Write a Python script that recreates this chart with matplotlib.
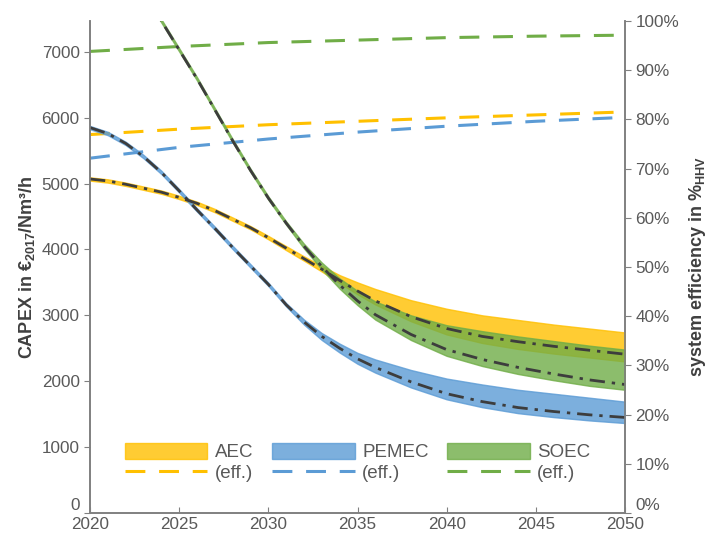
import matplotlib
matplotlib.use("Agg")
import matplotlib.pyplot as plt
from matplotlib.patches import Patch
from matplotlib.lines import Line2D
from matplotlib.ticker import FuncFormatter

plt.rcParams['font.family'] = ['Liberation Sans', 'DejaVu Sans']
plt.rcParams['mathtext.fontset'] = 'custom'
plt.rcParams['mathtext.rm'] = 'Liberation Sans'
plt.rcParams['mathtext.bf'] = 'Liberation Sans:bold'
plt.rcParams['mathtext.it'] = 'Liberation Sans:italic'

# years for AEC / PEMEC capex curves
years = [2020, 2021, 2022, 2023, 2024, 2025, 2026, 2027, 2028, 2029, 2030,
         2031, 2032, 2033, 2034, 2035, 2036, 2038, 2040, 2042, 2044, 2046, 2048, 2050]
# SOEC enters the chart from above around 2024
soec_years = years[3:]

# CAPEX in EUR2017/(Nm3/h)
aec_mid = [5070, 5040, 4990, 4930, 4870, 4790, 4700, 4590, 4460, 4330, 4180,
           4020, 3860, 3700, 3530, 3370, 3220, 2980, 2800, 2680, 2600, 2530, 2470, 2410]
aec_hi = [5095, 5065, 5015, 4955, 4895, 4815, 4725, 4615, 4485, 4355, 4205,
          4050, 3895, 3750, 3610, 3500, 3400, 3230, 3100, 3000, 2930, 2860, 2800, 2740]
aec_lo = [5045, 5015, 4965, 4905, 4845, 4765, 4675, 4565, 4435, 4305, 4155,
          3990, 3830, 3665, 3490, 3320, 3165, 2910, 2710, 2580, 2490, 2420, 2360, 2300]

pem_mid = [5850, 5760, 5610, 5410, 5170, 4890, 4600, 4320, 4030, 3750, 3470,
           3160, 2900, 2680, 2500, 2340, 2210, 1990, 1810, 1690, 1600, 1540, 1490, 1450]
pem_hi = [5875, 5785, 5635, 5435, 5195, 4915, 4625, 4345, 4055, 3775, 3495,
          3185, 2935, 2730, 2570, 2430, 2330, 2170, 2040, 1950, 1870, 1810, 1750, 1690]
pem_lo = [5825, 5735, 5585, 5385, 5145, 4865, 4575, 4295, 4005, 3725, 3445,
          3135, 2860, 2625, 2435, 2265, 2130, 1905, 1725, 1605, 1515, 1455, 1405, 1365]

soec_mid = [7920, 7470, 7030, 6590, 6120, 5650, 5200, 4780, 4400, 4050, 3740,
            3460, 3220, 3010, 2710, 2480, 2330, 2210, 2110, 2020, 1950]
soec_hi = [7945, 7495, 7055, 6615, 6145, 5675, 5225, 4805, 4425, 4085, 3800,
           3560, 3370, 3210, 3000, 2850, 2760, 2680, 2610, 2540, 2480]
soec_lo = [7895, 7445, 7005, 6565, 6095, 5625, 5175, 4755, 4375, 4015, 3695,
           3405, 3155, 2935, 2625, 2385, 2230, 2110, 2015, 1930, 1870]

# system efficiency in %HHV
eff_years = [2020, 2025, 2030, 2035, 2040, 2045, 2050]
aec_eff = [76.9, 78.0, 78.9, 79.6, 80.3, 80.9, 81.5]
pem_eff = [72.1, 74.3, 76.0, 77.4, 78.6, 79.6, 80.4]
soec_eff = [93.8, 94.8, 95.6, 96.1, 96.6, 96.9, 97.1]

yellow = '#FFC000'
blue = '#5B9BD5'
green = '#70AD47'
grey = '#595959'
spine_c = '#808080'
dashdot = (0, (5.5, 2.5, 1.2, 2.5))
effdash = (0, (6.5, 4.5))

fig = plt.figure(figsize=(7.09, 5.36), dpi=100)
ax = fig.add_axes([0.127, 0.043, 0.7545, 0.918])
ax2 = ax.twinx()
ax.set_zorder(ax2.get_zorder() + 1)
ax.patch.set_visible(False)

# efficiency lines (right axis)
ax2.plot(eff_years, aec_eff, color=yellow, lw=2.2, linestyle=effdash)
ax2.plot(eff_years, pem_eff, color=blue, lw=2.2, linestyle=effdash)
ax2.plot(eff_years, soec_eff, color=green, lw=2.2, linestyle=effdash)

# capex bands
ax.fill_between(years, aec_lo, aec_hi, facecolor=yellow, edgecolor=yellow, alpha=0.8, lw=1.0)
ax.fill_between(years, pem_lo, pem_hi, facecolor=blue, edgecolor=blue, alpha=0.8, lw=1.0)
ax.fill_between(soec_years, soec_lo, soec_hi, facecolor=green, edgecolor=green, alpha=0.8, lw=1.0)

ax.plot(years, aec_mid, color='#3d3d3d', lw=2.0, linestyle=dashdot)
ax.plot(years, pem_mid, color='#3d3d3d', lw=2.0, linestyle=dashdot)
ax.plot(soec_years, soec_mid, color='#3d3d3d', lw=2.0, linestyle=dashdot)

ax.set_xlim(2020, 2050)
ax.set_ylim(0, 7470)
ax2.set_ylim(0, 100)
ax.set_xticks(range(2020, 2051, 5))
ax.set_yticks(range(0, 7001, 1000))
ax2.set_yticks(range(0, 101, 10))
ax2.yaxis.set_major_formatter(FuncFormatter(lambda v, p: '%d%%' % v))

for a in (ax, ax2):
    a.spines['top'].set_visible(False)
    for s in a.spines.values():
        s.set_color(spine_c)
        s.set_linewidth(1.2)
ax.tick_params(axis='x', direction='in', length=4, color=spine_c, labelcolor=grey, labelsize=12.3, pad=3)
ax.tick_params(axis='y', direction='out', length=4, color=spine_c, labelcolor=grey, labelsize=12.3)
ax2.tick_params(axis='y', direction='out', length=4, color=spine_c, labelcolor=grey, labelsize=12.3)

# the zero labels sit above the year labels
ax.yaxis.get_major_ticks()[0].label1.set_verticalalignment('bottom')
ax2.yaxis.get_major_ticks()[0].label2.set_verticalalignment('bottom')

ax.set_ylabel(r'CAPEX in €$_{\mathbf{2017}}$/Nm³/h', fontsize=13, fontweight='bold', color='#404040', labelpad=3)
ax2.set_ylabel(r'system efficiency in %$_{\mathbf{HHV}}$', fontsize=13, fontweight='bold', color='#404040', labelpad=6)

handles = [Patch(facecolor=yellow, edgecolor=yellow, alpha=0.8),
           Line2D([], [], color=yellow, lw=2.2, linestyle=effdash),
           Patch(facecolor=blue, edgecolor=blue, alpha=0.8),
           Line2D([], [], color=blue, lw=2.2, linestyle=effdash),
           Patch(facecolor=green, edgecolor=green, alpha=0.8),
           Line2D([], [], color=green, lw=2.2, linestyle=effdash)]
labels = ['AEC', '(eff.)', 'PEMEC', '(eff.)', 'SOEC', '(eff.)']
leg = ax.legend(handles, labels, ncol=3, loc='upper left', bbox_to_anchor=(0.065, 0.143),
                frameon=False, fontsize=13.5, handlelength=4.4, handleheight=0.95,
                handletextpad=0.4, columnspacing=1.0, labelspacing=0.15,
                borderpad=0, borderaxespad=0)
for t in leg.get_texts():
    t.set_color(grey)

fig.savefig('out.png', dpi=100)
